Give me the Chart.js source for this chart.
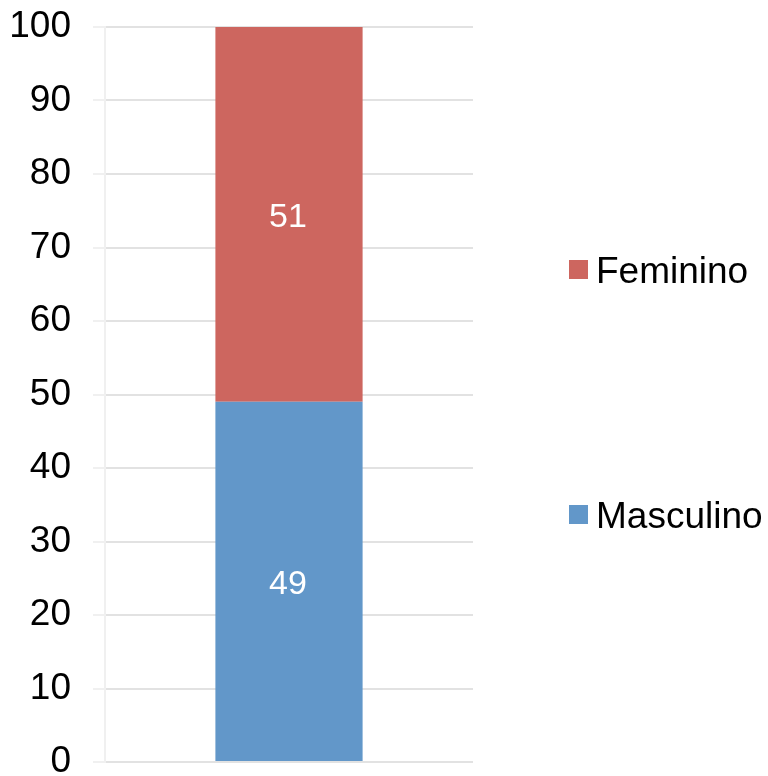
<!DOCTYPE html>
<html>
<head>
<meta charset="utf-8">
<script src="https://cdn.jsdelivr.net/npm/chart.js@4/dist/chart.umd.min.js"></script>
<style>
  html, body { margin: 0; padding: 0; background: #fff; }
  #wrap { width: 768px; height: 776px; }
</style>
</head>
<body>
<div id="wrap"><canvas id="chart"></canvas></div>
<script>
const categories = [''];
const seriesNames = ['Masculino', 'Feminino'];
const masculino = [49];
const feminino = [51];
const yTicks = [0, 10, 20, 30, 40, 50, 60, 70, 80, 90, 100];

const colors = ['#6297c9', '#cd665f'];

// white value labels in the middle of each segment
const valueLabels = {
    id: 'valueLabels',
    afterDatasetsDraw(chart) {
        const ctx = chart.ctx;
        ctx.save();
        ctx.fillStyle = '#ffffff';
        ctx.font = '34px "Liberation Sans", Arial, sans-serif';
        ctx.textAlign = 'center';
        ctx.textBaseline = 'middle';
        chart.data.datasets.forEach(function(ds, i) {
            chart.getDatasetMeta(i).data.forEach(function(bar, j) {
                const y = (bar.y + bar.base) / 2 + 3;
                ctx.fillText(String(ds.data[j]), bar.x - 1, y);
            });
        });
        ctx.restore();
    }
};

// legend on the right, items spread over the plot height
const sideLegend = {
    id: 'sideLegend',
    afterDraw(chart) {
        const ctx = chart.ctx;
        const area = chart.chartArea;
        const items = chart.data.datasets.slice().reverse();
        const step = (area.bottom - area.top) / (items.length + 1);
        ctx.save();
        ctx.font = '37px "Liberation Sans", Arial, sans-serif';
        ctx.textBaseline = 'middle';
        ctx.textAlign = 'left';
        items.forEach(function(ds, i) {
            const y = area.top + step * (i + 1);
            ctx.fillStyle = ds.backgroundColor;
            ctx.fillRect(569, y - 12, 19, 19);
            ctx.fillStyle = '#000000';
            ctx.fillText(ds.label, 596, y + 1);
        });
        ctx.restore();
    }
};

new Chart(document.getElementById('chart'), {
    type: 'bar',
    data: {
        labels: categories,
        datasets: [
            { label: seriesNames[0], data: masculino, backgroundColor: colors[0] },
            { label: seriesNames[1], data: feminino, backgroundColor: colors[1] }
        ]
    },
    options: {
        responsive: true,
        maintainAspectRatio: false,
        animation: false,
        layout: { padding: { top: 27, bottom: 14, left: 10, right: 295 } },
        datasets: { bar: { barPercentage: 0.4, categoryPercentage: 1 } },
        plugins: {
            legend: { display: false },
            tooltip: { enabled: false }
        },
        scales: {
            x: {
                stacked: true,
                display: false
            },
            y: {
                stacked: true,
                min: 0,
                max: 100,
                afterBuildTicks: function(axis) {
                    axis.ticks = yTicks.map(function(v) { return { value: v }; });
                },
                afterFit: function(axis) {
                    // let the 0 label run past the bottom edge, like the original
                    axis.width = 95;
                    axis.paddingTop = 0;
                    axis.paddingBottom = 0;
                },
                grid: {
                    color: '#e2e2e2',
                    lineWidth: 2,
                    tickLength: 12,
                    tickColor: '#f0f0f0'
                },
                border: { color: '#f0f0f0', width: 2 },
                ticks: {
                    color: '#000000',
                    padding: 22,
                    font: { family: '"Liberation Sans", Arial, sans-serif', size: 37 }
                }
            }
        }
    },
    plugins: [valueLabels, sideLegend]
});
</script>
</body>
</html>
